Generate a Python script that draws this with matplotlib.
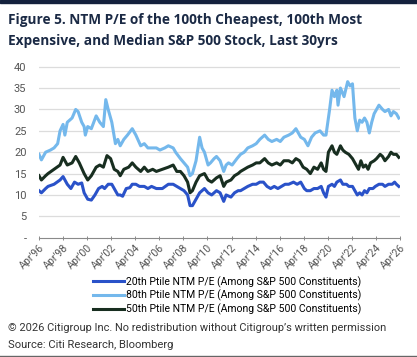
import matplotlib
matplotlib.use("Agg")
import matplotlib.pyplot as plt
from matplotlib.lines import Line2D
from matplotlib import font_manager

# ---- data (decimal year, NTM P/E) ----
p20 = [(1996.25,11),(1996.45,10.5),(1996.8,11.5),(1997.0,12),(1997.5,12.5),(1998.0,13.5),(1998.25,14.3),
       (1998.6,12.5),(1998.9,11.5),(1999.2,13),(1999.5,12.5),(1999.8,12.8),(2000.0,10.5),(2000.3,9),
       (2000.6,8.8),(2000.9,10),(2001.2,11.5),(2001.5,12),(2001.7,11.5),(2002.0,12.5),(2002.3,12.5),
       (2002.6,11),(2002.8,10),(2003.0,10),(2003.2,9.7),(2003.5,11.5),(2003.8,11.7),(2004.0,12.5),
       (2004.3,12.5),(2004.6,12),(2005.0,12),(2005.3,11.5),(2005.6,12),(2006.0,11.5),(2006.5,11.5),
       (2007.0,12.5),(2007.4,12.5),(2007.7,12),(2008.0,11.5),(2008.3,11),(2008.6,10),(2008.8,7.5),
       (2009.0,7.5),(2009.3,9),(2009.6,10.5),(2010.0,11.5),(2010.3,10.5),(2010.6,10),(2011.0,11),
       (2011.3,10.5),(2011.6,8.5),(2011.8,10),(2012.2,9.5),(2012.5,10.5),(2012.8,11),(2013.0,11),
       (2013.3,11.5),(2013.6,12),(2014.0,12.5),(2014.3,12.5),(2014.6,13),(2014.9,13),(2015.2,12),
       (2015.5,11.5),(2015.8,12),(2016.1,11.5),(2016.4,12),(2016.7,12.5),(2017.0,12.5),(2017.4,13),
       (2017.7,12.5),(2018.0,13),(2018.3,11.5),(2018.5,11),(2018.8,11),(2019.1,11.5),(2019.4,11.5),
       (2019.7,12),(2019.9,10.5),(2020.1,9.5),(2020.3,12),(2020.6,12.5),(2020.8,12),(2021.0,13),
       (2021.3,13.5),(2021.5,12.5),(2021.8,12.5),(2022.0,12),(2022.3,12),(2022.5,11),(2022.7,10),
       (2022.9,10.5),(2023.1,10),(2023.3,11),(2023.5,10.5),(2023.7,11.5),(2024.0,11.5),(2024.2,12),
       (2024.5,12.5),(2024.8,12.5),(2025.0,12),(2025.3,12.5),(2025.6,12.5),(2025.8,13),(2025.95,12.5),
       (2026.15,12)]

p80 = [(1996.25,19.5),(1996.45,18.2),(1996.8,20),(1997.2,20.5),(1997.5,21),(1997.8,22),(1998.0,25),
       (1998.25,26.5),(1998.4,24),(1998.6,27),(1999.0,28),(1999.3,30),(1999.5,29.5),(1999.8,27),
       (2000.0,26),(2000.1,24),(2000.3,26),(2000.6,25.5),(2001.0,28.5),(2001.3,27),(2001.6,26),
       (2001.8,32.3),(2002.0,30),(2002.3,27),(2002.6,22),(2002.8,23),(2003.0,21.5),(2003.3,23),
       (2003.6,24),(2004.0,25.5),(2004.3,24),(2004.7,21.5),(2005.0,22),(2005.3,21),(2005.6,21),
       (2006.0,21),(2006.3,20.5),(2006.7,21),(2007.0,21.5),(2007.4,21),(2007.6,20),(2008.0,18.5),
       (2008.3,17.5),(2008.6,16.5),(2008.8,14.5),(2009.0,15),(2009.3,18),(2009.6,23.5),(2009.8,21),
       (2010.0,20),(2010.3,17),(2010.5,17.5),(2010.8,18.5),(2011.0,19),(2011.3,18),(2011.6,15.5),
       (2011.8,17),(2012.0,17.5),(2012.3,17),(2012.7,18.5),(2013.0,19.5),(2013.3,20),(2013.6,21),
       (2014.0,21.5),(2014.3,22),(2014.6,23),(2015.0,24),(2015.3,23),(2015.6,22.5),(2016.0,23),
       (2016.3,22.5),(2016.6,23.5),(2017.0,24),(2017.3,24.5),(2017.6,25.5),(2018.0,23.5),(2018.3,23),
       (2018.6,21.5),(2018.9,23.5),(2019.2,24.5),(2019.6,25),(2019.9,24),(2020.1,24),(2020.25,27),
       (2020.4,30),(2020.6,34.5),(2020.8,33),(2021.0,34.5),(2021.1,31),(2021.3,35),(2021.6,33),
       (2021.9,36.5),(2022.1,35.5),(2022.3,36),(2022.5,28),(2022.7,25),(2022.9,27.5),(2023.1,27),
       (2023.3,28),(2023.5,27),(2023.7,24.5),(2023.9,27),(2024.1,29),(2024.3,30),(2024.5,31),
       (2024.8,30),(2025.0,29.5),(2025.3,30),(2025.5,28.5),(2025.7,29.5),(2025.95,29),(2026.15,28)]

p50 = [(1996.25,14.5),(1996.45,13.5),(1996.8,14.5),(1997.0,15),(1997.5,16),(1998.0,17),(1998.25,18.8),
       (1998.6,17),(1999.0,17.5),(1999.3,19),(1999.6,17.5),(2000.0,15),(2000.3,13.5),(2000.6,14.5),
       (2001.0,16.5),(2001.3,17),(2001.6,16.5),(2001.9,19.2),(2002.2,18.5),(2002.5,16),(2002.8,15.5),
       (2003.0,14.5),(2003.3,16),(2003.7,16.5),(2004.0,17.5),(2004.3,16.5),(2004.7,15.5),(2005.0,16.5),
       (2005.3,15.5),(2005.7,16),(2006.0,15.5),(2006.5,16),(2007.0,16.5),(2007.4,17),(2007.7,15.5),
       (2008.0,15.5),(2008.3,14.5),(2008.6,13),(2008.8,10.5),(2009.0,11),(2009.3,13),(2009.6,14.5),
       (2010.0,15),(2010.3,13.5),(2010.6,13),(2011.0,14),(2011.3,14.5),(2011.6,12),(2011.8,13),
       (2012.2,13.5),(2012.5,14.5),(2012.8,15),(2013.0,15.5),(2013.3,16),(2013.6,16.5),(2014.0,17),
       (2014.3,17.5),(2014.6,17.5),(2015.0,18.5),(2015.3,17.5),(2015.6,17),(2016.0,17.5),(2016.3,17),
       (2016.6,18),(2017.0,18),(2017.3,17.5),(2017.6,18.5),(2017.9,18),(2018.2,16.5),(2018.5,16),
       (2018.8,15),(2019.1,16.5),(2019.4,16),(2019.7,17.5),(2019.9,16),(2020.1,15.5),(2020.3,20),
       (2020.6,21.5),(2020.8,20),(2021.0,19.5),(2021.3,21.5),(2021.5,20.5),(2021.7,20),(2022.0,19.5),
       (2022.3,18.5),(2022.6,17),(2022.8,16),(2023.0,18),(2023.2,16.5),(2023.4,17),(2023.6,16),
       (2023.8,17.5),(2024.1,18),(2024.3,18.5),(2024.6,19.5),(2024.8,19),(2025.0,18),(2025.3,19),
       (2025.5,20),(2025.7,19.5),(2025.95,19.5),(2026.15,18.8)]

tick_years = list(range(1996, 2027, 2))
tick_labels = ["Apr'%02d" % (y % 100) for y in tick_years]
y_ticks = [0, 5, 10, 15, 20, 25, 30, 35, 40]
y_labels = ["-"] + [str(v) for v in y_ticks[1:]]

series_labels = ["20th Ptile NTM P/E (Among S&P 500 Constituents)",
                 "80th Ptile NTM P/E (Among S&P 500 Constituents)",
                 "50th Ptile NTM P/E (Among S&P 500 Constituents)"]
colors = ["#2a52c9", "#74b8ec", "#182e20"]

avail = {f.name for f in font_manager.fontManager.ttflist}
narrow = "Liberation Sans Narrow" if "Liberation Sans Narrow" in avail else "Roboto"

W, H = 417, 357
fig = plt.figure(figsize=(W / 100, H / 100), dpi=100)
fig.patch.set_facecolor("white")

def fx(px): return px / W
def fy(py): return 1 - py / H

# top bar
fig.patches.append(plt.Rectangle((0, fy(3)), 1, 3 / H, transform=fig.transFigure,
                                 color="#14213d", zorder=0))

title_font = "Open Sans"
fig.text(fx(8), fy(20), "Figure 5. NTM P/E of the 100th Cheapest, 100th Most",
         fontsize=9.85, fontweight="bold", color="#1b2a45", family=title_font, va="center")
fig.text(fx(8), fy(41), "Expensive, and Median S&P 500 Stock, Last 30yrs",
         fontsize=9.85, fontweight="bold", color="#1b2a45", family=title_font, va="center")

ymax = 41
y0px, ppu = 237.7, 4.275
ax = fig.add_axes([fx(39), fy(y0px), fx(400) - fx(39), ymax * ppu / H])
ax.set_xlim(1996.25, 2026.25)
ax.set_ylim(0, ymax)

for pts, col, lab in zip([p20, p80, p50], colors, series_labels):
    xs, ys = zip(*pts)
    ax.plot(xs, ys, color=col, lw=2.2, label=lab, solid_joinstyle="round")

for v in y_ticks[1:]:
    ax.axhline(v, color="#dcdcdc", lw=0.9, zorder=0)

ax.set_yticks(y_ticks)
ax.set_yticklabels(y_labels)
ax.set_xticks([y + 0.25 for y in tick_years])
ax.set_xticklabels(tick_labels, rotation=45, ha="right", rotation_mode="anchor")
for s in ["top", "right", "left"]:
    ax.spines[s].set_visible(False)
ax.spines["bottom"].set_color("#8a8a8a")
ax.spines["bottom"].set_linewidth(0.8)
ax.tick_params(axis="y", length=0, pad=9, labelsize=8.0, labelcolor="#555555")
ax.tick_params(axis="x", length=3, width=0.7, color="#8a8a8a", direction="inout",
               labelsize=7.6, labelcolor="#555555", pad=2)
for t in ax.get_xticklabels() + ax.get_yticklabels():
    t.set_family(narrow)

handles = [Line2D([], [], color=c, lw=2.2) for c in colors]
fig.legend(handles, series_labels, loc="upper left", bbox_to_anchor=(fx(93), fy(276)),
           frameon=False, handlelength=3.0, handletextpad=0.15,
           labelspacing=0.22, borderaxespad=0, borderpad=0,
           prop={"family": narrow, "size": 7.5})

fig.text(fx(8), fy(328), "\u00a9 2026 Citigroup Inc. No redistribution without Citigroup\u2019s written permission",
         fontsize=7.9, color="#333333", family=narrow, va="center")
fig.text(fx(8), fy(345), "Source: Citi Research, Bloomberg",
         fontsize=8.1, color="#333333", family=narrow, va="center")
fig.lines.append(Line2D([0, 1], [fy(355.5), fy(355.5)], transform=fig.transFigure,
                        color="#666666", lw=1))

fig.savefig("out.png", dpi=100, facecolor="white")
